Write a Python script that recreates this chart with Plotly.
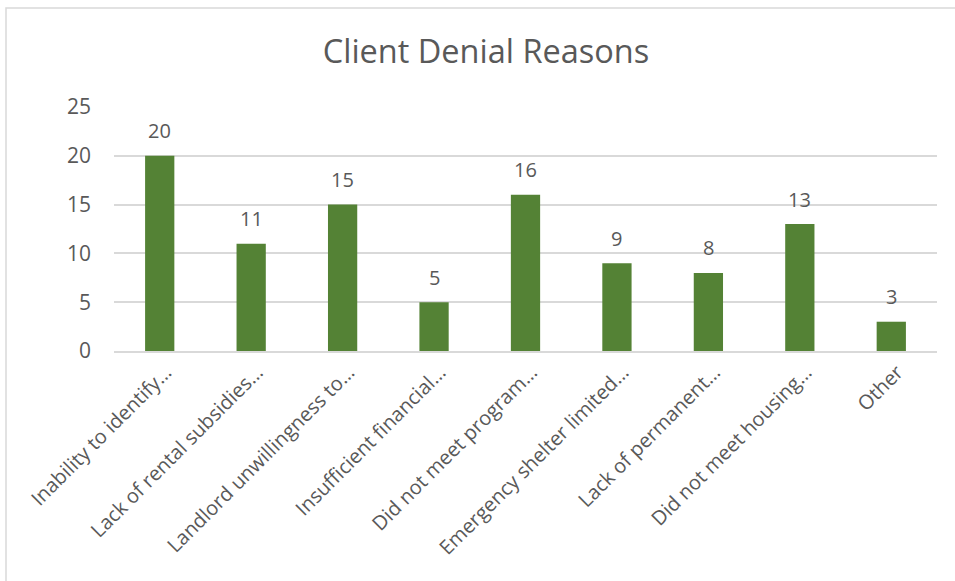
import plotly.graph_objects as go

categories = [
    "Inability to identify\u2026",
    "Lack of rental subsidies\u2026",
    "Landlord unwillingness to\u2026",
    "Insufficient financial\u2026",
    "Did not meet program\u2026",
    "Emergency shelter limited\u2026",
    "Lack of permanent\u2026",
    "Did not meet housing\u2026",
    "Other",
]
values = [20, 11, 15, 5, 16, 9, 8, 13, 3]
y_ticks = [0, 5, 10, 15, 20, 25]
title_text = "Client Denial Reasons"

FONT = "Open Sans"
GRAY = "#595959"
GRID = "#d9d9d9"

fig = go.Figure(
    go.Bar(
        x=categories,
        y=values,
        marker=dict(color="#548235", line=dict(width=0)),
        width=0.32,
        hoverinfo="x+y",
    )
)

for c, v in zip(categories, values):
    fig.add_annotation(
        x=c,
        y=v,
        text=str(v),
        showarrow=False,
        yanchor="middle",
        yshift=25,
        font=dict(family=FONT, size=20, color=GRAY),
    )

W, H = 955, 581
L, R, T, B = 114, 18, 107, 230
pw = W - L - R
ph = H - T - B

fig.update_layout(
    width=W,
    height=H,
    margin=dict(l=L, r=R, t=T, b=B),
    paper_bgcolor="white",
    plot_bgcolor="white",
    showlegend=False,
    title=dict(
        text=title_text,
        x=486 / W,
        xanchor="center",
        xref="container",
        y=1 - 52 / H,
        yanchor="middle",
        font=dict(family=FONT, size=32.5, color=GRAY),
    ),
    xaxis=dict(
        tickangle=-45,
        tickfont=dict(family=FONT, size=20, color=GRAY),
        showgrid=False,
        showline=True,
        linecolor=GRID,
        linewidth=1.5,
        ticks="",
        ticklabelshift=6,
    ),
    yaxis=dict(
        range=[0, 25],
        tickvals=y_ticks,
        tickfont=dict(family=FONT, size=21, color=GRAY),
        showgrid=True,
        gridcolor=GRID,
        gridwidth=1.5,
        zeroline=False,
        showline=False,
        ticks="",
        ticklabelstandoff=22,
    ),
    shapes=[
        dict(
            type="rect",
            xref="paper",
            yref="paper",
            x0=(6 - L) / pw,
            x1=(W + 20 - L) / pw,
            y0=-2,
            y1=(H - B - 8) / ph,
            line=dict(color=GRID, width=1.5),
            fillcolor="rgba(0,0,0,0)",
            layer="below",
        )
    ],
)

fig.write_html("out.html")
